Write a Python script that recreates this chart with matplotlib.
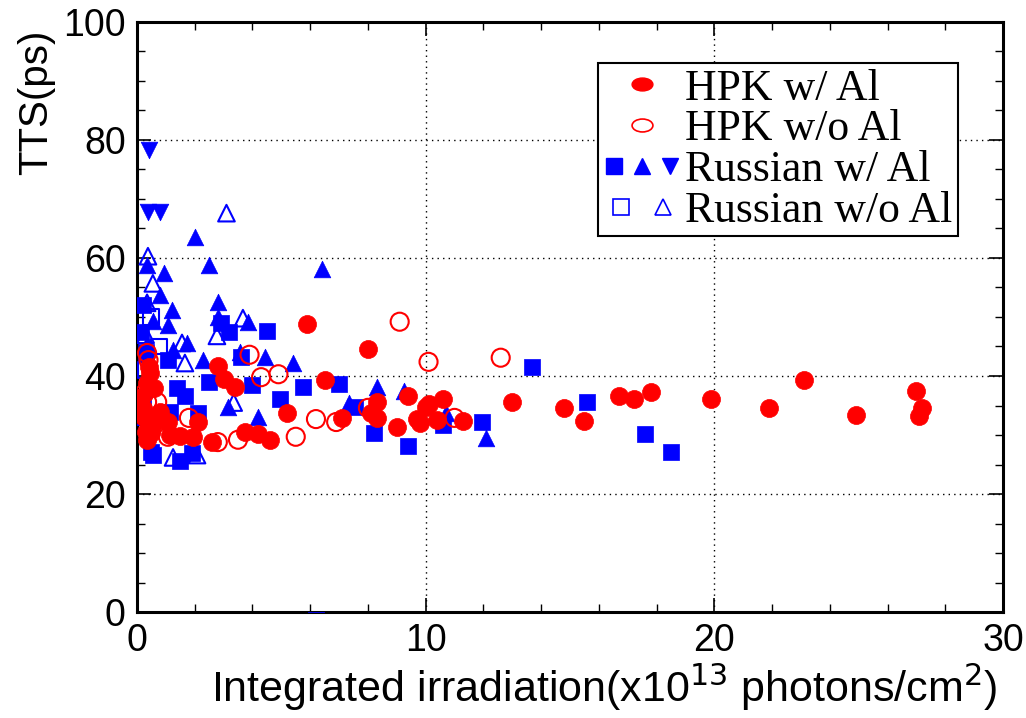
import matplotlib
matplotlib.use("Agg")
import matplotlib.pyplot as plt
from matplotlib.lines import Line2D
from matplotlib.legend_handler import HandlerTuple
from matplotlib.ticker import MultipleLocator
from matplotlib.path import Path
from matplotlib.transforms import Affine2D

# -----------------------------
# DATA
# -----------------------------
hpk_al_x = [0.35, 0.4, 0.45, 0.6, 0.8, 0.6, 0.4, 1.07, 0.35, 0.5, 1.15, 1.5, 1.95, 2.1,
            2.6, 0.2, 0.15, 0.25, 0.3, 2.8, 3.0, 3.4, 3.75, 4.2, 4.6, 5.2, 5.9, 6.5,
            7.1, 8.0, 8.3, 8.1, 8.3, 9.0, 9.4, 10.0, 10.1, 10.6, 9.7, 9.8, 10.4, 11.3,
            13.0, 14.8, 15.5, 16.7, 17.2, 17.8, 19.9, 21.9, 23.1, 24.9, 27.0, 27.2, 27.1]
hpk_al_y = [38.8, 41.5, 40.5, 38.0, 33.9, 32.0, 31.4, 32.2, 29.2, 30.3, 30.0, 29.8, 29.7, 32.2,
            28.8, 34.5, 36.5, 33.0, 30.5, 41.7, 39.5, 38.1, 30.5, 30.2, 29.2, 33.7, 48.8, 39.3,
            32.9, 44.6, 35.6, 33.7, 32.9, 31.4, 36.6, 34.8, 35.3, 36.1, 32.7, 32.0, 32.5, 32.4,
            35.6, 34.6, 32.4, 36.6, 36.1, 37.3, 36.1, 34.6, 39.3, 33.4, 37.5, 34.6, 33.2]

hpk_noal_x = [0.35, 0.4, 0.7, 0.35, 0.25, 1.8, 1.07, 2.8, 3.5, 3.9, 4.3, 4.9, 5.5, 6.2,
              6.9, 8.0, 9.1, 10.1, 11.0, 12.6]
hpk_noal_y = [43.9, 42.7, 35.6, 35.6, 37.0, 32.9, 29.7, 28.8, 29.2, 43.6, 39.8, 40.3, 29.7, 32.7,
              32.2, 34.6, 49.2, 42.4, 32.9, 43.1]

rus_al_sq_x = [0.5, 0.55, 0.2, 0.15, 0.3, 0.2, 1.15, 1.4, 1.65, 2.1, 1.5, 1.9, 1.07, 2.5,
               2.9, 3.2, 3.6, 4.0, 4.5, 4.95, 5.75, 7.0, 7.55, 8.2, 9.4, 10.6, 11.95, 13.7,
               15.6, 17.6, 18.5, 6.2]
rus_al_sq_y = [27.1, 26.6, 52.0, 47.5, 44.0, 36.0, 33.9, 38.0, 36.6, 33.7, 25.6, 27.0, 42.7, 38.9,
               49.0, 47.5, 43.3, 38.5, 47.6, 36.1, 38.1, 38.6, 34.7, 30.3, 28.1, 31.7, 32.2, 41.5,
               35.6, 30.2, 27.1, -1.3]

rus_al_up_x = [0.35, 0.93, 2.0, 2.5, 0.8, 1.2, 1.07, 0.55, 2.8, 2.8, 3.85, 1.73, 1.25, 0.35,
               2.3, 3.57, 4.43, 5.4, 6.4, 3.15, 4.2, 7.35, 8.3, 9.25, 10.7, 12.1, 4.8, 13.8, 14.4]
rus_al_up_y = [58.8, 57.5, 63.6, 58.8, 53.7, 51.2, 48.6, 49.3, 52.5, 50.0, 49.2, 45.6, 44.4, 45.5,
               42.7, 44.1, 43.2, 42.2, 58.1, 34.7, 33.1, 35.4, 38.1, 37.5, 33.7, 29.5, -1.9, -1.9, -1.9]

rus_al_down_x = [0.4, 0.38, 0.8]
rus_al_down_y = [78.3, 67.8, 67.8]

rus_noal_sq_x = [0.5, 0.75, 0.3, 0.15]
rus_noal_sq_y = [50.0, 45.0, 41.0, 33.0]

rus_noal_up_x = [0.38, 0.55, 0.35, 3.1, 3.67, 2.77, 1.56, 1.66, 3.35, 1.25, 2.08, 0.3]
rus_noal_up_y = [60.3, 55.7, 52.4, 67.6, 49.8, 46.8, 45.6, 42.2, 35.5, 26.2, 26.6, 47.0]

legend_labels = ["HPK w/ Al", "HPK w/o Al", "Russian w/ Al", "Russian w/o Al"]

# -----------------------------
# PLOT SETUP
# -----------------------------
plt.rcParams['font.family'] = ['Liberation Sans', 'DejaVu Sans']

figure_handle = plt.figure(figsize=(10.26, 7.18), dpi=100)
axis_handle = figure_handle.add_axes([0.1335, 0.1476, 0.8441, 0.8218])

marker_size = 130
blue = "#0000ff"
red = "#ff0000"

axis_handle.scatter(rus_al_sq_x, rus_al_sq_y, s=marker_size, marker="s",
                    color=blue, edgecolors=blue, linewidths=0.5, zorder=3)
axis_handle.scatter(rus_al_up_x, rus_al_up_y, s=marker_size * 1.1, marker="^",
                    color=blue, edgecolors=blue, linewidths=0.5, zorder=3)
axis_handle.scatter(rus_al_down_x, rus_al_down_y, s=marker_size * 1.1, marker="v",
                    color=blue, edgecolors=blue, linewidths=0.5, zorder=3)
axis_handle.scatter(rus_noal_sq_x, rus_noal_sq_y, s=marker_size, marker="s",
                    facecolors="none", edgecolors=blue, linewidths=1.5, zorder=3)
axis_handle.scatter(rus_noal_up_x, rus_noal_up_y, s=marker_size * 1.1, marker="^",
                    facecolors="none", edgecolors=blue, linewidths=1.5, zorder=3)
axis_handle.scatter(hpk_noal_x, hpk_noal_y, s=marker_size * 1.3, marker="o",
                    facecolors="none", edgecolors=red, linewidths=1.5, zorder=4)
axis_handle.scatter(hpk_al_x, hpk_al_y, s=marker_size * 1.3, marker="o",
                    color=red, edgecolors=red, linewidths=0.5, zorder=4)

axis_handle.set_xlim(0, 30)
axis_handle.set_ylim(0, 100)
axis_handle.xaxis.set_major_locator(MultipleLocator(10))
axis_handle.xaxis.set_minor_locator(MultipleLocator(2))
axis_handle.yaxis.set_major_locator(MultipleLocator(20))
axis_handle.yaxis.set_minor_locator(MultipleLocator(5))

axis_handle.grid(True, which="major", linestyle=(0, (1, 3)), color="black", linewidth=1.0)
axis_handle.set_axisbelow(True)

axis_handle.tick_params(which="both", direction="in", top=True, right=True,
                        labelsize=27, pad=8)
axis_handle.tick_params(which="major", length=10, width=1.2)
axis_handle.tick_params(which="minor", length=6, width=1.0)
for spine in axis_handle.spines.values():
    spine.set_linewidth(2.2)

axis_handle.set_xlabel("Integrated irradiation(x10$^{13}$ photons/cm$^2$)",
                       fontsize=31, labelpad=2, x=0.54)
figure_handle.text(0.035, 0.857, "TTS(ps)", rotation=90, fontsize=29,
                   ha="center", va="center")

# -----------------------------
# LEGEND
# -----------------------------
# flattened ellipse like the reference legend symbol
ellipse_marker = Path.unit_circle().transformed(Affine2D().scale(1.0, 0.62))

h_hpk_al = Line2D([], [], linestyle="none", marker=ellipse_marker, markersize=15,
                  color=red, markeredgecolor=red)
h_hpk_noal = Line2D([], [], linestyle="none", marker=ellipse_marker, markersize=15,
                    markerfacecolor="none", markeredgecolor=red, markeredgewidth=1.2)
h_rus_sq = Line2D([], [], linestyle="none", marker="s", markersize=12, color=blue)
h_rus_up = Line2D([], [], linestyle="none", marker="^", markersize=12, color=blue)
h_rus_down = Line2D([], [], linestyle="none", marker="v", markersize=12, color=blue)
h_rus_nsq = Line2D([], [], linestyle="none", marker="s", markersize=11,
                   markerfacecolor="none", markeredgecolor=blue, markeredgewidth=1.2)
h_rus_nup = Line2D([], [], linestyle="none", marker="^", markersize=11,
                   markerfacecolor="none", markeredgecolor=blue, markeredgewidth=1.2)

legend_handle = axis_handle.legend(
    [h_hpk_al, h_hpk_noal, (h_rus_sq, h_rus_up, h_rus_down), (h_rus_nsq, h_rus_nup)],
    legend_labels,
    handler_map={tuple: HandlerTuple(ndivide=None, pad=0.2)},
    prop={"family": "Liberation Serif", "size": 31.5},
    loc="upper right", bbox_to_anchor=(0.948, 0.930), borderaxespad=0,
    handlelength=1.75, handletextpad=0.12, labelspacing=0.02, borderpad=0.12,
    fancybox=False, edgecolor="black", framealpha=1.0)
legend_handle.get_frame().set_linewidth(1.5)

figure_handle.savefig("out.png", dpi=100)
